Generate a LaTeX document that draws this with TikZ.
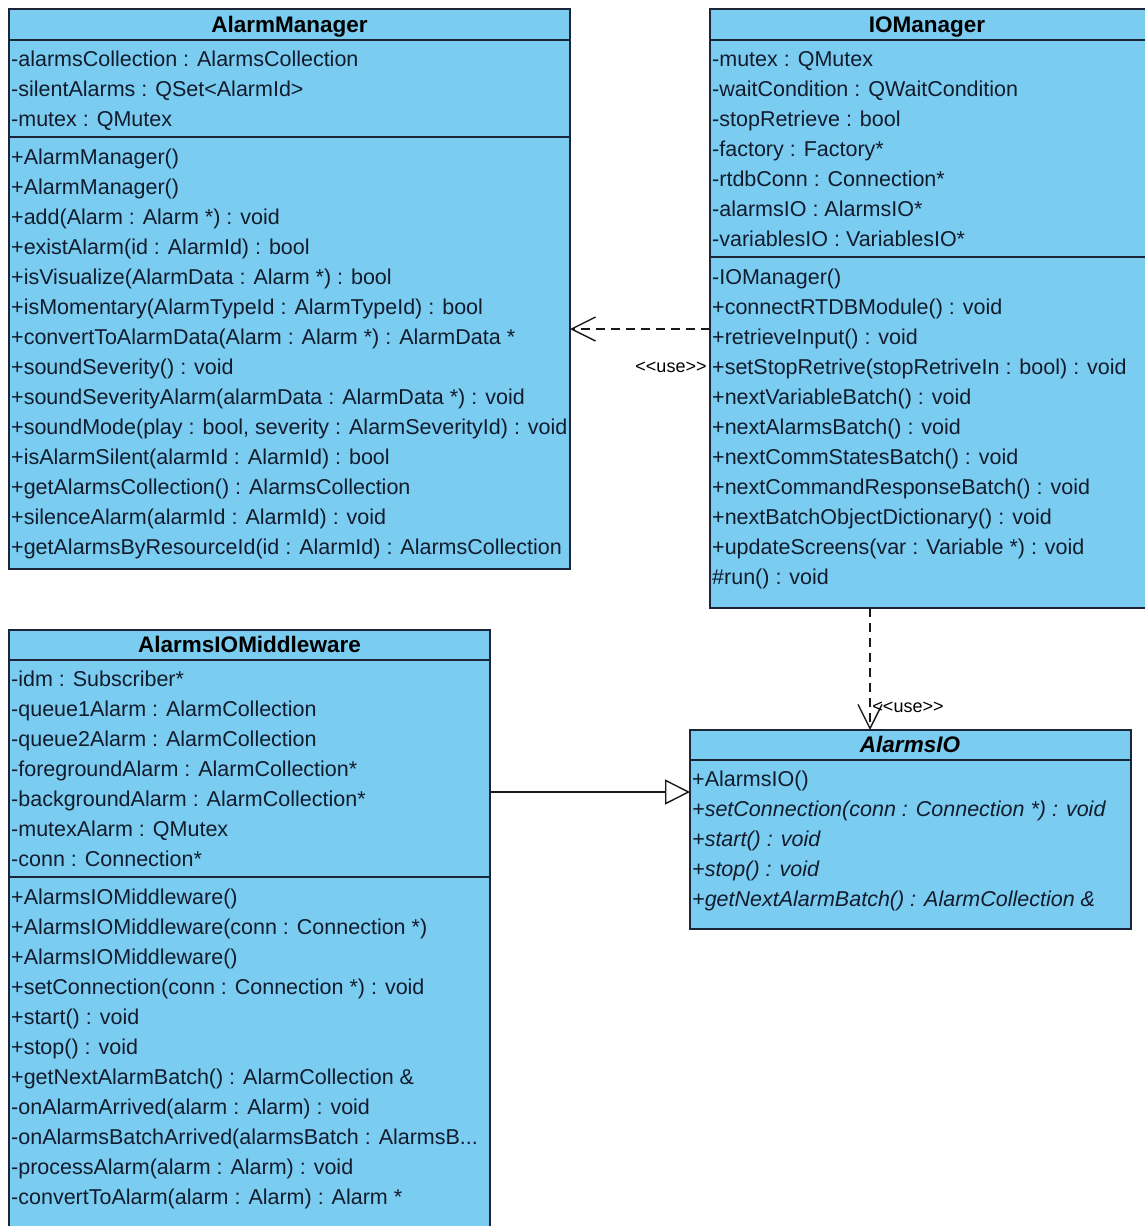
\documentclass[tikz,border=0pt]{standalone}
\usepackage{fontspec}
\setmainfont{Liberation Sans}
\usetikzlibrary{arrows.meta}
\definecolor{clsfill}{RGB}{122,204,240}
\definecolor{clsline}{RGB}{28,36,56}
\definecolor{txt}{RGB}{18,28,45}
\begin{document}
\begin{tikzpicture}[x=1pt,y=-1pt,
  cls/.style={draw=clsline, line width=1.8pt, fill=clsfill, rectangle, inner sep=0pt, outer sep=0pt, anchor=north west},
  divider/.style={draw=clsline, line width=1.8pt},
  row/.style={anchor=base west, inner sep=0pt, font=\fontsize{21.5}{24}\selectfont, text=txt},
  irow/.style={row, font=\fontsize{21.5}{24}\selectfont\itshape},
  title/.style={anchor=base, inner sep=0pt, font=\fontsize{22.5}{24}\selectfont\bfseries, text=black},
  ititle/.style={title, font=\fontsize{22.5}{24}\selectfont\bfseries\itshape},
  lbl/.style={inner sep=0pt, font=\fontsize{18}{20}\selectfont, text=black},
  dep/.style={draw=black!90, line width=1.4pt, dash pattern=on 9pt off 6pt, -{Straight Barb[length=24pt,width=24pt,line width=1.4pt]}},
  gen/.style={draw=black!90, line width=1.4pt, -{Triangle[open,length=25pt,width=25pt,line width=1.4pt]}}
]
\useasboundingbox (0,0) rectangle (1145,1226);
\fill[white] (0,0) rectangle (1145,1226);
\clip (0,0) rectangle (1145,1226);

% ---------------- AlarmManager ----------------
\node[cls, minimum width=561pt, minimum height=560pt] (am) at (9,9) {};
\draw[divider] (9,40) -- (570,40);
\draw[divider] (9,137) -- (570,137);
\node[title] (am-t) at (289.5,32) {AlarmManager};
\node[row] (am-a0) at (11,66) {-alarmsCollection : AlarmsCollection};
\node[row] (am-a1) at (11,96) {-silentAlarms : QSet<AlarmId>};
\node[row] (am-a2) at (11,126) {-mutex : QMutex};
\node[row] (am-m0) at (11,164) {+AlarmManager()};
\node[row] (am-m1) at (11,194) {+AlarmManager()};
\node[row] (am-m2) at (11,224) {+add(Alarm : Alarm *) : void};
\node[row] (am-m3) at (11,254) {+existAlarm(id : AlarmId) : bool};
\node[row] (am-m4) at (11,284) {+isVisualize(AlarmData : Alarm *) : bool};
\node[row] (am-m5) at (11,314) {+isMomentary(AlarmTypeId : AlarmTypeId) : bool};
\node[row] (am-m6) at (11,344) {+convertToAlarmData(Alarm : Alarm *) : AlarmData *};
\node[row] (am-m7) at (11,374) {+soundSeverity() : void};
\node[row] (am-m8) at (11,404) {+soundSeverityAlarm(alarmData : AlarmData *) : void};
\node[row] (am-m9) at (11,434) {+soundMode(play : bool, severity : AlarmSeverityId) : void};
\node[row] (am-m10) at (11,464) {+isAlarmSilent(alarmId : AlarmId) : bool};
\node[row] (am-m11) at (11,494) {+getAlarmsCollection() : AlarmsCollection};
\node[row] (am-m12) at (11,524) {+silenceAlarm(alarmId : AlarmId) : void};
\node[row] (am-m13) at (11,554) {+getAlarmsByResourceId(id : AlarmId) : AlarmsCollection};

% ---------------- IOManager ----------------
\node[cls, minimum width=460pt, minimum height=599pt] (iom) at (710,9) {};
\draw[divider] (710,40) -- (1170,40);
\draw[divider] (710,257) -- (1170,257);
\node[title] (iom-t) at (927,32) {IOManager};
\node[row] (iom-a0) at (712,66) {-mutex : QMutex};
\node[row] (iom-a1) at (712,96) {-waitCondition : QWaitCondition};
\node[row] (iom-a2) at (712,126) {-stopRetrieve : bool};
\node[row] (iom-a3) at (712,156) {-factory : Factory*};
\node[row] (iom-a4) at (712,186) {-rtdbConn : Connection*};
\node[row] (iom-a5) at (712,216) {-alarmsIO : AlarmsIO*};
\node[row] (iom-a6) at (712,246) {-variablesIO : VariablesIO*};
\node[row] (iom-m0) at (712,284) {-IOManager()};
\node[row] (iom-m1) at (712,314) {+connectRTDBModule() : void};
\node[row] (iom-m2) at (712,344) {+retrieveInput() : void};
\node[row] (iom-m3) at (712,374) {+setStopRetrive(stopRetriveIn : bool) : void};
\node[row] (iom-m4) at (712,404) {+nextVariableBatch() : void};
\node[row] (iom-m5) at (712,434) {+nextAlarmsBatch() : void};
\node[row] (iom-m6) at (712,464) {+nextCommStatesBatch() : void};
\node[row] (iom-m7) at (712,494) {+nextCommandResponseBatch() : void};
\node[row] (iom-m8) at (712,524) {+nextBatchObjectDictionary() : void};
\node[row] (iom-m9) at (712,554) {+updateScreens(var : Variable *) : void};
\node[row] (iom-m10) at (712,584) {\#run() : void};

% ---------------- AlarmsIOMiddleware ----------------
\node[cls, minimum width=481pt, minimum height=620pt] (aiom) at (9,630) {};
\draw[divider] (9,660) -- (490,660);
\draw[divider] (9,877) -- (490,877);
\node[title] (aiom-t) at (249.5,652) {AlarmsIOMiddleware};
\node[row] (aiom-a0) at (11,686) {-idm : Subscriber*};
\node[row] (aiom-a1) at (11,716) {-queue1Alarm : AlarmCollection};
\node[row] (aiom-a2) at (11,746) {-queue2Alarm : AlarmCollection};
\node[row] (aiom-a3) at (11,776) {-foregroundAlarm : AlarmCollection*};
\node[row] (aiom-a4) at (11,806) {-backgroundAlarm : AlarmCollection*};
\node[row] (aiom-a5) at (11,836) {-mutexAlarm : QMutex};
\node[row] (aiom-a6) at (11,866) {-conn : Connection*};
\node[row] (aiom-m0) at (11,904) {+AlarmsIOMiddleware()};
\node[row] (aiom-m1) at (11,934) {+AlarmsIOMiddleware(conn : Connection *)};
\node[row] (aiom-m2) at (11,964) {+AlarmsIOMiddleware()};
\node[row] (aiom-m3) at (11,994) {+setConnection(conn : Connection *) : void};
\node[row] (aiom-m4) at (11,1024) {+start() : void};
\node[row] (aiom-m5) at (11,1054) {+stop() : void};
\node[row] (aiom-m6) at (11,1084) {+getNextAlarmBatch() : AlarmCollection \&};
\node[row] (aiom-m7) at (11,1114) {-onAlarmArrived(alarm : Alarm) : void};
\node[row] (aiom-m8) at (11,1144) {-onAlarmsBatchArrived(alarmsBatch : AlarmsB...};
\node[row] (aiom-m9) at (11,1174) {-processAlarm(alarm : Alarm) : void};
\node[row] (aiom-m10) at (11,1204) {-convertToAlarm(alarm : Alarm) : Alarm *};

% ---------------- AlarmsIO ----------------
\node[cls, minimum width=441pt, minimum height=199pt] (aio) at (690,730) {};
\draw[divider] (690,760) -- (1131,760);
\node[ititle] (aio-t) at (910,752) {AlarmsIO};
\node[row] (aio-m0) at (692,786) {+AlarmsIO()};
\node[irow] (aio-m1) at (692,816) {+setConnection(conn : Connection *) : void};
\node[irow] (aio-m2) at (692,846) {+start() : void};
\node[irow] (aio-m3) at (692,876) {+stop() : void};
\node[irow] (aio-m4) at (692,906) {+getNextAlarmBatch() : AlarmCollection \&};

% ---------------- connectors ----------------
\coordinate (y1) at (0,329);
\coordinate (x2) at (870,0);
\coordinate (y3) at (0,792);
\draw[dep] (iom.west |- y1) -- (am.east |- y1);
\draw[dep] (x2 |- iom.south) -- (x2 |- aio.north);
\draw[gen] (aiom.east |- y3) -- (aio.west |- y3);
\node[lbl] (use1) at (671,367) {<{}<use>{}>};
\node[lbl] (use2) at (908,707) {<{}<use>{}>};
\end{tikzpicture}
\end{document}
